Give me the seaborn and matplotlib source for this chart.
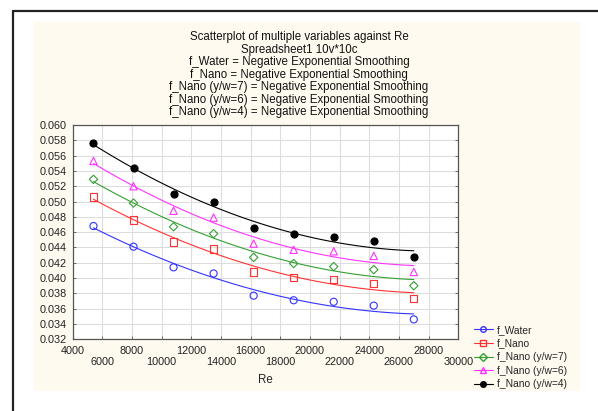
import numpy as np
import pandas as pd
import matplotlib
matplotlib.use("Agg")
import matplotlib.pyplot as plt
from matplotlib.lines import Line2D
from matplotlib.patches import Rectangle
import seaborn as sns

# data
re_vals = [5400, 8100, 10800, 13500, 16200, 18900, 21600, 24300, 27000]
f_water = [0.0468, 0.0441, 0.0414, 0.0406, 0.0377, 0.0371, 0.0369, 0.0364, 0.0346]
f_nano = [0.0506, 0.0476, 0.0447, 0.0438, 0.0408, 0.0401, 0.0398, 0.0393, 0.0373]
f_nano7 = [0.0529, 0.0498, 0.0467, 0.0458, 0.0427, 0.0419, 0.0415, 0.0411, 0.0390]
f_nano6 = [0.0553, 0.0520, 0.0488, 0.0479, 0.0445, 0.0437, 0.0435, 0.0429, 0.0408]
f_nano4 = [0.0577, 0.0544, 0.0510, 0.0500, 0.0465, 0.0457, 0.0454, 0.0449, 0.0427]

names = ["f_Water", "f_Nano", "f_Nano (y/w=7)", "f_Nano (y/w=6)", "f_Nano (y/w=4)"]
series = [f_water, f_nano, f_nano7, f_nano6, f_nano4]
colors = ["#3333ff", "#ff3333", "#33a033", "#ff33ff", "#000000"]
markers = ["o", "s", "D", "^", "o"]
sizes = [26, 28, 18, 28, 26]
filled = [False, False, False, False, True]

x_ticks = list(range(4000, 30001, 2000))
y_ticks = [round(0.032 + 0.002 * i, 3) for i in range(15)]

title_lines = [
    "Scatterplot of multiple variables against Re",
    "Spreadsheet1 10v*10c",
    "f_Water = Negative Exponential Smoothing",
    "f_Nano = Negative Exponential Smoothing",
    "f_Nano (y/w=7) = Negative Exponential Smoothing",
    "f_Nano (y/w=6) = Negative Exponential Smoothing",
    "f_Nano (y/w=4) = Negative Exponential Smoothing",
]

sns.set_style("white")
plt.rcParams["font.family"] = ["Liberation Sans", "DejaVu Sans"]
fs = 8.3
tfs = 7.8

fig = plt.figure(figsize=(5.98, 4.11), dpi=100)
fig.patch.set_facecolor("white")

# cream panel + frame lines
fig.patches.append(Rectangle((34 / 598, 1 - 391 / 411), 546 / 598, 369 / 411,
                             transform=fig.transFigure, facecolor="#fffaef",
                             edgecolor="none", zorder=-5))
fig.add_artist(Line2D([13 / 598, 1], [1 - 11.5 / 411] * 2, color="#222222", lw=1.6))
fig.add_artist(Line2D([13 / 598] * 2, [0, 1 - 11.5 / 411], color="#222222", lw=1.6))

ax = fig.add_axes([72.7 / 598, 1 - 339.3 / 411, 385.6 / 598, 214.3 / 411])
ax.set_zorder(2)
ax.set_facecolor("white")

df = pd.DataFrame({"Re": re_vals})
for name, vals in zip(names, series):
    df[name] = vals

xs = np.linspace(min(re_vals), max(re_vals), 120)
handles = []
for name, c, m, s, fl in zip(names, colors, markers, sizes, filled):
    coef = np.polyfit(df["Re"], df[name], 2)
    sns.lineplot(x=xs, y=np.polyval(coef, xs), color=c, lw=0.8, ax=ax, zorder=2)
    sns.scatterplot(x="Re", y=name, data=df, marker=m, s=s,
                    facecolor=c if fl else "none", edgecolor=c,
                    linewidth=0.8, ax=ax, zorder=3)
    handles.append(Line2D([], [], color=c, lw=0.8, marker=m,
                          markersize=4, markerfacecolor=c if fl else "none",
                          markeredgecolor=c))

ax.set_xlim(4000, 30000)
ax.set_ylim(0.032, 0.060)
ax.set_xticks(x_ticks)
ax.set_xticklabels([str(v) if i % 2 == 0 else "\n" + str(v) for i, v in enumerate(x_ticks)])
ax.set_yticks(y_ticks)
ax.set_yticklabels([f"{v:.3f}" for v in y_ticks])
ax.grid(True, color="#dddddd", lw=0.8)
ax.tick_params(direction="in", length=2.5, width=0.6, labelsize=tfs, color="#555555",
               left=True, bottom=True, right=True, top=False, pad=4.5,
               labelcolor="#222222")
for sp in ax.spines.values():
    sp.set_color("#555555")
    sp.set_linewidth(0.9)
ax.set_xlabel("Re", fontsize=fs, labelpad=5)
ax.set_ylabel("")

for i, t in enumerate(title_lines):
    fig.text(0.5, 1 - (37 + 12.5 * i) / 411, t, ha="center", va="center",
             fontsize=fs, color="#111111")

fig.legend(handles, names, loc="upper left", bbox_to_anchor=(474 / 598, 1 - 325 / 411),
           frameon=False, fontsize=7.4, handlelength=1.8, handletextpad=0.4,
           labelspacing=0.35, borderpad=0, borderaxespad=0)

fig.savefig("out.png", dpi=100)
